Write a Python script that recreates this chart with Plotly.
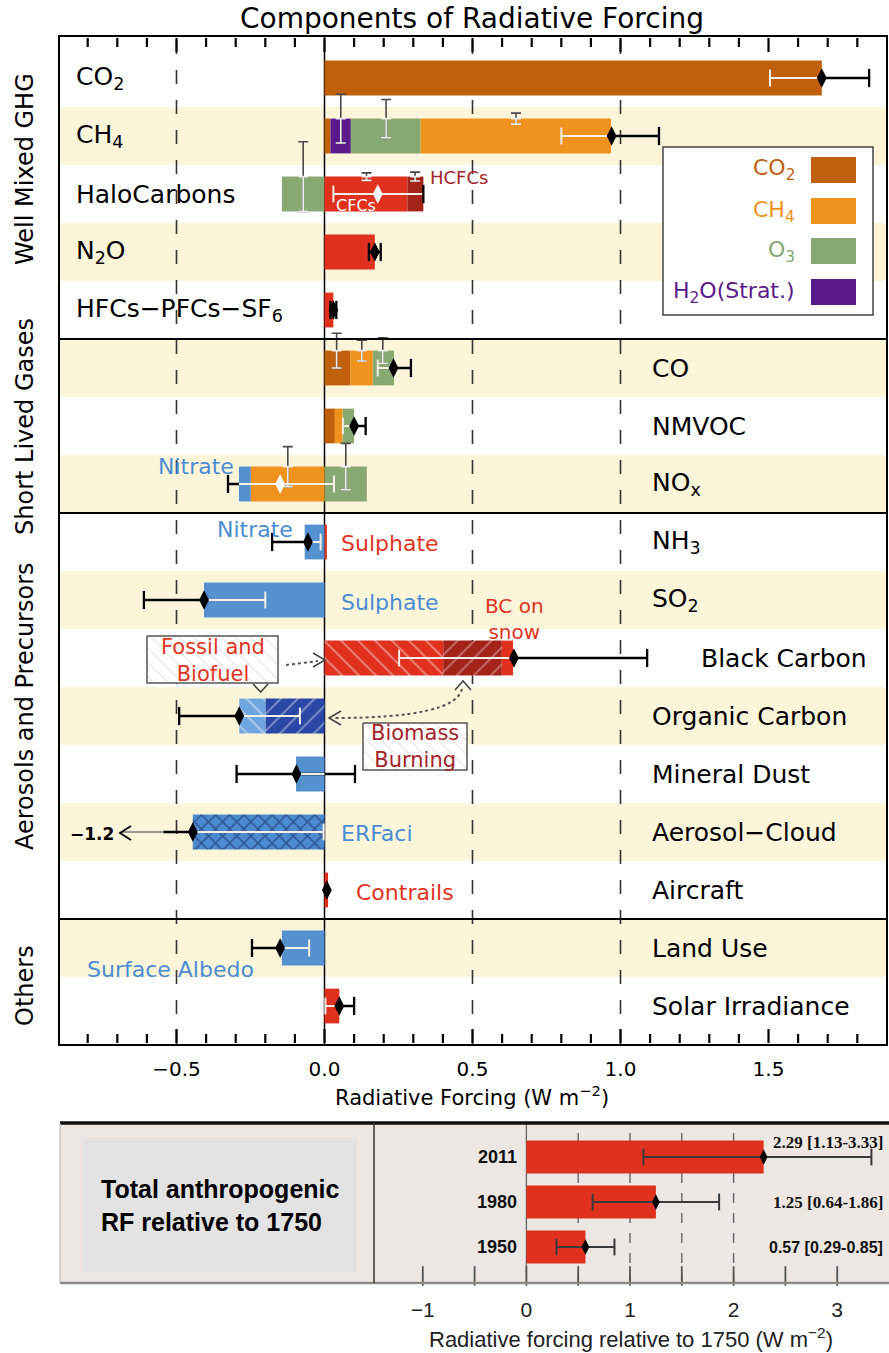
import plotly.graph_objects as go

W, H = 889, 1353
FONT = "DejaVu Sans"

# ------------------------------------------------------------------ data
rows = ["CO2", "CH4", "HaloCarbons", "N2O", "HFCs", "CO", "NMVOC", "NOx",
        "NH3", "SO2", "Black Carbon", "Organic Carbon", "Mineral Dust",
        "Aerosol-Cloud", "Aircraft", "Land Use", "Solar Irradiance"]
row_labels = ["CO<sub>2</sub>", "CH<sub>4</sub>", "HaloCarbons", "N<sub>2</sub>O",
              "HFCs−PFCs−SF<sub>6</sub>", "CO", "NMVOC", "NO<sub>x</sub>",
              "NH<sub>3</sub>", "SO<sub>2</sub>", "Black Carbon", "Organic Carbon",
              "Mineral Dust", "Aerosol−Cloud", "Aircraft", "Land Use", "Solar Irradiance"]
groups = ["Well Mixed GHG", "Short Lived Gases", "Aerosols and Precursors", "Others"]
group_ends = ["HFCs", "NOx", "Aircraft"]

brown_rows = ["CO2", "CH4", "CO", "NMVOC"]
brown_start = [0.0, 0.0, 0.0, 0.0]
brown_end = [1.68, 0.02, 0.088, 0.035]

purple_rows = ["CH4"]
purple_start = [0.02]
purple_end = [0.089]

green_rows = ["CH4", "HaloCarbons", "CO", "NMVOC", "NOx"]
green_start = [0.089, -0.144, 0.163, 0.061, 0.0]
green_end = [0.325, 0.0, 0.235, 0.100, 0.143]

orange_rows = ["CH4", "CO", "NMVOC", "NOx"]
orange_start = [0.325, 0.088, 0.035, -0.249]
orange_end = [0.968, 0.163, 0.061, 0.0]

red_rows = ["HaloCarbons", "N2O", "HFCs", "NH3", "Aircraft", "Solar Irradiance", "Black Carbon"]
red_start = [0.0, 0.0, 0.0, 0.0, 0.0, 0.0, 0.599]
red_end = [0.280, 0.170, 0.030, 0.008, 0.012, 0.050, 0.637]

darkred_rows = ["HaloCarbons"]
darkred_start = [0.280]
darkred_end = [0.334]

blue_rows = ["NOx", "NH3", "SO2", "Mineral Dust", "Land Use"]
blue_start = [-0.289, -0.067, -0.407, -0.096, -0.144]
blue_end = [-0.249, 0.0, 0.0, 0.0, 0.0]

bc_fossil = [0.0, 0.401]
bc_biomass = [0.401, 0.599]
oc_fossil = [-0.288, -0.199]
oc_biomass = [-0.199, 0.0]
aci_bar = [-0.445, 0.0]
aci_low_label = "−1.2"

# component uncertainty I-beams (centre x, half length in row units)
ib_rows = ["CH4", "CH4", "CH4", "HaloCarbons", "HaloCarbons", "HaloCarbons",
           "CO", "CO", "CO", "NOx", "NOx"]
ib_x = [0.055, 0.208, 0.647, -0.072, 0.142, 0.306, 0.041, 0.126, 0.197, -0.124, 0.072]
ib_half = [0.42, 0.33, 0.095, 0.60, 0.065, 0.077, 0.30, 0.18, 0.22, 0.345, 0.40]

# best estimates
tot_rows = ["CO2", "CH4", "N2O", "HFCs", "CO", "NMVOC", "NH3", "SO2", "Black Carbon",
            "Organic Carbon", "Mineral Dust", "Aerosol-Cloud", "Aircraft", "Land Use",
            "Solar Irradiance"]
tot_val = [1.68, 0.97, 0.17, 0.03, 0.233, 0.10, -0.056, -0.407, 0.64, -0.288, -0.095,
           -0.445, 0.008, -0.15, 0.05]
wtot_rows = ["HaloCarbons", "NOx"]
wtot_val = [0.18, -0.15]

blk_rows = ["CO2", "CH4", "N2O", "HFCs", "CO", "NMVOC", "NOx", "NH3", "SO2", "Black Carbon",
            "Organic Carbon", "Mineral Dust", "Aerosol-Cloud", "Aircraft", "Land Use",
            "Solar Irradiance"]
blk_lo = [1.68, 0.97, 0.15, 0.02, 0.233, 0.10, -0.326, -0.177, -0.61, 0.64, -0.491, -0.297,
          -0.544, 0.0, -0.245, 0.05]
blk_hi = [1.84, 1.13, 0.19, 0.04, 0.292, 0.139, -0.289, -0.056, -0.407, 1.09, -0.288, 0.103,
          -0.445, 0.016, -0.15, 0.10]
bcap_rows = ["CO2", "CH4", "N2O", "N2O", "HFCs", "HFCs", "CO", "NMVOC", "NOx", "NH3", "SO2",
             "Black Carbon", "Organic Carbon", "Mineral Dust", "Mineral Dust", "Land Use",
             "Solar Irradiance", "HaloCarbons"]
bcap_x = [1.84, 1.13, 0.15, 0.19, 0.02, 0.04, 0.292, 0.139, -0.326, -0.177, -0.61, 1.09,
          -0.491, -0.297, 0.103, -0.245, 0.10, 0.334]

wht_rows = ["CO2", "CH4", "HaloCarbons", "CO", "NMVOC", "NOx", "NH3", "SO2", "Black Carbon",
            "Organic Carbon", "Mineral Dust", "Aerosol-Cloud", "Land Use", "Solar Irradiance"]
wht_lo = [1.505, 0.80, 0.03, 0.18, 0.062, -0.289, -0.056, -0.407, 0.252, -0.288, -0.095,
          -0.445, -0.15, 0.003]
wht_hi = [1.68, 0.97, 0.33, 0.233, 0.10, 0.032, -0.013, -0.20, 0.64, -0.083, 0.0, -0.003,
          -0.052, 0.05]
wcap_rows = ["CO2", "CH4", "HaloCarbons", "CO", "NMVOC", "NOx", "NH3", "SO2", "Black Carbon",
             "Organic Carbon", "Aerosol-Cloud", "Land Use", "Solar Irradiance"]
wcap_x = [1.505, 0.80, 0.03, 0.18, 0.062, 0.032, -0.013, -0.20, 0.252, -0.083, -0.003,
          -0.052, 0.003]

legend_labels = ["CO<sub>2</sub>", "CH<sub>4</sub>", "O<sub>3</sub>", "H<sub>2</sub>O(Strat.)"]

x_tickvals = [-0.5, 0.0, 0.5, 1.0, 1.5]
x_ticktext = ["−0.5", "0.0", "0.5", "1.0", "1.5"]

years = ["2011", "1980", "1950"]
total_rf = [2.29, 1.25, 0.57]
total_lo = [1.13, 0.64, 0.29]
total_hi = [3.33, 1.86, 0.85]
x2_tickvals = [-1, 0, 1, 2, 3]
x2_ticktext = ["−1", "0", "1", "2", "3"]

# ------------------------------------------------------------------ styling
C = dict(co2="#c0600c", ch4="#f0921e", o3="#88aa72", h2o="#5a1a8a", red="#e0301e",
         dred="#a3231b", blue="#5590cf", lblue="#6fa6df", dblue="#2b47a6",
         aci="#4d8bd1", band="#fcf5da", txtblue="#4a8dd3", txtred="#e03522",
         txtdred="#a3262a", wline="#f4efe6")
BAR_W = 0.6
idx = {n: i for i, n in enumerate(rows)}


def ri(names):
    return [idx[n] for n in names]


# pixel -> coordinate helpers (layout positions only)
def xpx(px):
    return (px - 324.5) / 296.0


def ypx(py):
    return (py - 78.0) / 58.0


def pxp(px):
    return px / W


def pyp(py):
    return 1 - py / H


def bx(px):
    return (px - 526.4) / 103.6


def by(py):
    return (py - 1157.0) / 45.0


def x_to_paper(v):
    # inverse of xpx, expressed as a paper fraction
    return (324.5 + v * 296.0) / W


fig = go.Figure()


def add_bar(names, start, end, color, pattern=None):
    marker = dict(color=color, line=dict(width=0))
    if pattern:
        marker["pattern"] = pattern
    fig.add_trace(go.Bar(orientation="h", y=ri(names), x=[e - s for s, e in zip(start, end)],
                         base=start, width=BAR_W, marker=marker, hoverinfo="skip",
                         showlegend=False, xaxis="x", yaxis="y"))


add_bar(brown_rows, brown_start, brown_end, C["co2"])
add_bar(purple_rows, purple_start, purple_end, C["h2o"])
add_bar(green_rows, green_start, green_end, C["o3"])
add_bar(orange_rows, orange_start, orange_end, C["ch4"])
add_bar(red_rows, red_start, red_end, C["red"])
add_bar(darkred_rows, darkred_start, darkred_end, C["dred"])
add_bar(blue_rows, blue_start, blue_end, C["blue"])
add_bar(["Black Carbon"], [bc_fossil[0]], [bc_fossil[1]], C["red"],
        dict(shape="\\", fgcolor="rgba(255,255,255,0.85)", bgcolor=C["red"], size=12, solidity=0.16))
add_bar(["Black Carbon"], [bc_biomass[0]], [bc_biomass[1]], C["dred"],
        dict(shape="/", fgcolor="rgba(255,255,255,0.7)", bgcolor=C["dred"], size=12, solidity=0.16))
add_bar(["Organic Carbon"], [oc_fossil[0]], [oc_fossil[1]], C["lblue"],
        dict(shape="\\", fgcolor="rgba(255,255,255,0.85)", bgcolor=C["lblue"], size=12, solidity=0.16))
add_bar(["Organic Carbon"], [oc_biomass[0]], [oc_biomass[1]], C["dblue"],
        dict(shape="/", fgcolor="rgba(255,255,255,0.8)", bgcolor=C["dblue"], size=12, solidity=0.16))
add_bar(["Aerosol-Cloud"], [aci_bar[0]], [aci_bar[1]], C["aci"],
        dict(shape="x", fgcolor="#13275a", bgcolor=C["aci"], size=10, solidity=0.3))

# annotation boxes with hatch
for (x0, x1, y0, y1) in [(147, 278, 636, 683), (363, 467, 723, 770)]:
    fig.add_trace(go.Scatter(x=[xpx(x0), xpx(x1), xpx(x1), xpx(x0), xpx(x0)],
                             y=[ypx(y0), ypx(y0), ypx(y1), ypx(y1), ypx(y0)],
                             mode="lines", fill="toself", fillcolor="white",
                             fillpattern=dict(shape="\\", fgcolor="#c4c4c4", bgcolor="white",
                                              size=10, solidity=0.1),
                             line=dict(color="#555555", width=1.5), hoverinfo="skip",
                             showlegend=False, xaxis="x", yaxis="y"))

# component I-beams
ib_y = [idx[n] - BAR_W / 2 for n in ib_rows]
fig.add_trace(go.Scatter(x=ib_x, y=ib_y, mode="markers",
                         marker=dict(size=1, color="rgba(0,0,0,0)"),
                         error_y=dict(type="data", symmetric=True, array=ib_half,
                                      color="#4a4a4a", thickness=1.6, width=5),
                         hoverinfo="skip", showlegend=False, xaxis="x", yaxis="y"))
fig.add_trace(go.Scatter(x=ib_x, y=ib_y, mode="markers",
                         marker=dict(size=1, color="rgba(0,0,0,0)"),
                         error_y=dict(type="data", symmetric=False, array=ib_half,
                                      arrayminus=[0] * len(ib_half),
                                      color="#ececec", thickness=1.6, width=5),
                         hoverinfo="skip", showlegend=False, xaxis="x", yaxis="y"))


def segs(names, lo, hi):
    xs, ys = [], []
    for n, a, b in zip(names, lo, hi):
        xs += [a, b, None]
        ys += [idx[n], idx[n], None]
    return xs, ys


# off-scale arrow line for aerosol-cloud
fig.add_trace(go.Scatter(x=[blk_lo[blk_rows.index("Aerosol-Cloud")], xpx(121)],
                         y=[idx["Aerosol-Cloud"]] * 2, mode="lines",
                         line=dict(color="#7a7a7a", width=1.5), hoverinfo="skip",
                         showlegend=False, xaxis="x", yaxis="y"))

bxs, bys = segs(blk_rows, blk_lo, blk_hi)
fig.add_trace(go.Scatter(x=bxs, y=bys, mode="lines", line=dict(color="black", width=2.5),
                         hoverinfo="skip", showlegend=False, xaxis="x", yaxis="y"))
wxs, wys = segs(wht_rows, wht_lo, wht_hi)
fig.add_trace(go.Scatter(x=wxs, y=wys, mode="lines", line=dict(color=C["wline"], width=2),
                         hoverinfo="skip", showlegend=False, xaxis="x", yaxis="y"))
fig.add_trace(go.Scatter(x=bcap_x, y=ri(bcap_rows), mode="markers",
                         marker=dict(symbol="line-ns", size=13, line=dict(width=2.3, color="black")),
                         hoverinfo="skip", showlegend=False, xaxis="x", yaxis="y"))
fig.add_trace(go.Scatter(x=wcap_x, y=ri(wcap_rows), mode="markers",
                         marker=dict(symbol="line-ns", size=12, line=dict(width=2, color=C["wline"])),
                         hoverinfo="skip", showlegend=False, xaxis="x", yaxis="y"))
fig.add_trace(go.Scatter(x=tot_val, y=ri(tot_rows), mode="markers",
                         marker=dict(symbol="diamond-tall", size=14, color="black"),
                         hoverinfo="skip", showlegend=False, xaxis="x", yaxis="y"))
fig.add_trace(go.Scatter(x=wtot_val, y=ri(wtot_rows), mode="markers",
                         marker=dict(symbol="diamond-tall", size=14, color="white"),
                         hoverinfo="skip", showlegend=False, xaxis="x", yaxis="y"))

# ---------------- bottom panel
fig.add_trace(go.Bar(orientation="h", y=[0, 1, 2], x=total_rf, base=[0, 0, 0], width=0.73,
                     marker=dict(color="#e0301e", line=dict(width=0)), hoverinfo="skip",
                     showlegend=False, xaxis="x2", yaxis="y2"))
txs, tys = [], []
for i, (a, b) in enumerate(zip(total_lo, total_hi)):
    txs += [a, b, None]
    tys += [i, i, None]
fig.add_trace(go.Scatter(x=txs, y=tys, mode="lines", line=dict(color="#3a3a3a", width=2),
                         hoverinfo="skip", showlegend=False, xaxis="x2", yaxis="y2"))
fig.add_trace(go.Scatter(x=total_lo + total_hi, y=[0, 1, 2, 0, 1, 2], mode="markers",
                         marker=dict(symbol="line-ns", size=12, line=dict(width=2, color="#3a3a3a")),
                         hoverinfo="skip", showlegend=False, xaxis="x2", yaxis="y2"))
fig.add_trace(go.Scatter(x=total_rf, y=[0, 1, 2], mode="markers",
                         marker=dict(symbol="diamond-tall", size=11, color="black"),
                         hoverinfo="skip", showlegend=False, xaxis="x2", yaxis="y2"))
b_ticks = [k / 2 for k in range(-2, 7)]
fig.add_trace(go.Scatter(x=b_ticks, y=[by(1283 - 7)] * len(b_ticks), mode="markers",
                         marker=dict(symbol="line-ns", size=14, line=dict(width=1.8, color="#555555")),
                         cliponaxis=False, hoverinfo="skip", showlegend=False,
                         xaxis="x2", yaxis="y2"))

# ------------------------------------------------------------------ shapes
shapes = []
for r in range(1, len(rows), 2):
    shapes.append(dict(type="rect", xref="x domain", yref="y", x0=0, x1=1, y0=r - 0.5, y1=r + 0.5,
                       fillcolor=C["band"], line=dict(width=0), layer="below"))
for v in [-0.5, 0.5, 1.0]:
    shapes.append(dict(type="line", xref="x", yref="y domain", x0=v, x1=v, y0=0, y1=1,
                       line=dict(color="#333333", width=1.6, dash="14px,16px"), layer="below"))
shapes.append(dict(type="line", xref="x", yref="y domain", x0=0, x1=0, y0=0, y1=1,
                   line=dict(color="black", width=1.5), layer="below"))
for g in group_ends:
    shapes.append(dict(type="line", xref="x domain", yref="y", x0=0, x1=1,
                       y0=idx[g] + 0.5, y1=idx[g] + 0.5, line=dict(color="black", width=2.2)))

# inside tick marks of the main panel (top and bottom edges), fully paper referenced
for k in range(-8, 19):
    xp = x_to_paper(k / 10)
    ln = 14 if k % 5 == 0 else 9
    for p0, p1 in [(1043, 1043 - ln), (38, 38 + ln)]:
        shapes.append(dict(type="line", xref="paper", yref="paper", x0=xp, x1=xp,
                           y0=pyp(p0), y1=pyp(p1), line=dict(color="black", width=2.2)))

# legend box
shapes.append(dict(type="rect", xref="paper", yref="paper", x0=pxp(663), x1=pxp(873),
                   y0=pyp(315), y1=pyp(147), fillcolor="white",
                   line=dict(color="#444444", width=1.5)))
leg_cols = [C["co2"], C["ch4"], C["o3"], C["h2o"]]
leg_y = [170, 211, 251, 292]
for col, yy in zip(leg_cols, leg_y):
    shapes.append(dict(type="rect", xref="paper", yref="paper", x0=pxp(811), x1=pxp(856),
                       y0=pyp(yy + 13), y1=pyp(yy - 13), fillcolor=col, line=dict(width=0)))


def pth(points):
    return "M " + " L ".join(f"{xpx(a):.4f},{ypx(b):.4f}" for a, b in points)


chev = dict(color="#444444", width=1.6)
for pts in [[(313, 653), (325, 660), (313, 667)],
            [(253, 684), (260.7, 692), (268, 684)],
            [(455, 690), (463, 681), (471, 690)],
            [(341, 711), (329, 718), (341, 725)]]:
    shapes.append(dict(type="path", xref="x", yref="y", path=pth(pts), line=chev))
shapes.append(dict(type="path", xref="x", yref="y",
                   path=pth([(131, 826), (120, 833), (131, 840)]),
                   line=dict(color="black", width=1.8)))
shapes.append(dict(type="line", xref="x", yref="y", x0=xpx(286), y0=ypx(665), x1=xpx(318),
                   y1=ypx(661), line=dict(color="#555555", width=2, dash="dot")))
shapes.append(dict(type="path", xref="x", yref="y",
                   path=f"M {xpx(462):.4f},{ypx(689):.4f} Q {xpx(455):.4f},{ypx(718):.4f} "
                        f"{xpx(334):.4f},{ypx(718):.4f}",
                   line=dict(color="#555555", width=2, dash="dot")))

# bottom panel frame
shapes.append(dict(type="rect", xref="paper", yref="paper", x0=pxp(60), x1=1, y0=pyp(1283),
                   y1=pyp(1123), fillcolor="#ece7e2", line=dict(width=0), layer="below"))
shapes.append(dict(type="rect", xref="paper", yref="paper", x0=pxp(82), x1=pxp(357),
                   y0=pyp(1272), y1=pyp(1137), fillcolor="#e3e3e3", line=dict(width=0),
                   layer="below"))
for v in [0.5, 1.0, 1.5, 2.0]:
    shapes.append(dict(type="line", xref="x2", yref="y2 domain", x0=v, x1=v, y0=0, y1=1,
                       line=dict(color="#666666", width=1.4, dash="10px,10px"), layer="below"))
shapes.append(dict(type="line", xref="x2", yref="y2 domain", x0=0, x1=0, y0=0, y1=1,
                   line=dict(color="#666666", width=1.3), layer="below"))
shapes.append(dict(type="line", xref="paper", yref="paper", x0=pxp(60), x1=1, y0=pyp(1123),
                   y1=pyp(1123), line=dict(color="#111111", width=3.5)))
shapes.append(dict(type="line", xref="paper", yref="paper", x0=pxp(60), x1=1, y0=pyp(1283),
                   y1=pyp(1283), line=dict(color="#8a8a8a", width=2.5)))
shapes.append(dict(type="line", xref="paper", yref="paper", x0=pxp(60), x1=pxp(60),
                   y0=pyp(1283), y1=pyp(1123), line=dict(color="#b0b0b0", width=1)))
shapes.append(dict(type="line", xref="paper", yref="paper", x0=pxp(374), x1=pxp(374),
                   y0=pyp(1283), y1=pyp(1123), line=dict(color="#333333", width=1.5)))

# ------------------------------------------------------------------ annotations
anns = []


def ann(text, x, y, xref="x", yref="y", size=19, color="black", xanchor="left",
        family=FONT, **kw):
    d = dict(text=text, x=x, y=y, xref=xref, yref=yref, showarrow=False, xanchor=xanchor,
             yanchor="middle", font=dict(family=family, size=size, color=color))
    d.update(kw)
    anns.append(d)


ann("Components of Radiative Forcing", pxp(472), pyp(18), "paper", "paper", size=28,
    xanchor="center")
ann("Radiative Forcing (W m<sup>−2</sup>)", pxp(472), pyp(1096), "paper", "paper", size=21,
    xanchor="center")
for i, lab in enumerate(row_labels):
    if i < 5:
        ann(lab, xpx(74), i, size=25)
    elif rows[i] == "Black Carbon":
        ann(lab, xpx(699), i, size=25)
    else:
        ann(lab, xpx(650), i, size=25)
for g, yy in zip(groups, [169, 427, 706, 986]):
    ann(g, pxp(25), pyp(yy), "paper", "paper", size=24, xanchor="center", textangle=-90)

for lab, col, yy in zip(legend_labels, leg_cols, leg_y):
    ann(lab, pxp(797), pyp(yy), "paper", "paper", size=22, color=col, xanchor="right")

ann("HCFCs", xpx(428), ypx(177), size=18, color=C["txtdred"])
ann("CFCs", xpx(334), ypx(205), size=16, color="white")
ann("Nitrate", xpx(236), ypx(466), size=22, color=C["txtblue"], xanchor="right")
ann("Nitrate", xpx(295), ypx(529), size=22, color=C["txtblue"], xanchor="right")
ann("Sulphate", xpx(339), ypx(543), size=22, color=C["txtred"])
ann("Sulphate", xpx(339), ypx(602), size=22, color=C["txtblue"])
ann("BC on<br>snow", xpx(514), ypx(619), size=20, color=C["txtred"], xanchor="center")
ann("Fossil and<br>Biofuel", xpx(212.5), ypx(660), size=21, color=C["txtred"], xanchor="center")
ann("Biomass<br>Burning", xpx(415), ypx(746), size=21, color=C["txtdred"], xanchor="center")
ann("ERFaci", xpx(339), ypx(833), size=22, color=C["txtblue"])
ann("Contrails", xpx(354), ypx(892), size=22, color=C["txtred"])
ann("Surface Albedo", xpx(85), ypx(969), size=22, color=C["txtblue"])
ann(aci_low_label, xpx(116), ypx(834), xanchor="right",
    font=dict(family=FONT, size=17, color="black", weight="bold"))

# bottom panel texts
ann("Total anthropogenic<br>RF relative to 1750", pxp(99), pyp(1205), "paper", "paper",
    align="left", font=dict(family="Liberation Sans", size=25, color="black", weight="bold"))
for i, yr in enumerate(years):
    ann(yr, bx(519), i, "x2", "y2", xanchor="right",
        font=dict(family="Liberation Sans", size=18, color="#111", weight="bold"))
val_y = [by(1142), 1, 2]
val_fonts = ["Liberation Serif", "Liberation Serif", "Liberation Sans"]
val_sizes = [17, 17, 16]
for i in range(3):
    ann(f"{total_rf[i]:.2f} [{total_lo[i]:.2f}-{total_hi[i]:.2f}]", bx(885), val_y[i], "x2", "y2",
        xanchor="right",
        font=dict(family=val_fonts[i], size=val_sizes[i], color="#111", weight="bold"))
ann("Radiative forcing relative to 1750 (W m<sup>−2</sup>)", pxp(631), pyp(1338), "paper",
    "paper", xanchor="center", font=dict(family="Liberation Sans", size=22, color="#222"))

# ------------------------------------------------------------------ layout
fig.update_layout(
    width=W, height=H, margin=dict(l=0, r=0, t=0, b=0),
    paper_bgcolor="white", plot_bgcolor="rgba(0,0,0,0)",
    barmode="overlay", showlegend=False, shapes=shapes, annotations=anns,
    xaxis=dict(domain=[pxp(60), pxp(886)], range=[xpx(60), xpx(886)], anchor="y",
               tickvals=x_tickvals, ticktext=x_ticktext, ticks="",
               showline=True, linecolor="black", linewidth=2, mirror=True,
               showgrid=False, zeroline=False, ticklabelstandoff=6,
               tickfont=dict(family=FONT, size=20, color="black")),
    yaxis=dict(domain=[pyp(1044), pyp(37)], range=[ypx(1044), ypx(37)], anchor="x",
               showline=True, linecolor="black", linewidth=2, mirror=True,
               showticklabels=False, ticks="", showgrid=False, zeroline=False),
    xaxis2=dict(domain=[pxp(374), 1.0], range=[bx(374), bx(889)], anchor="y2",
                tickvals=x2_tickvals, ticktext=x2_ticktext, ticks="",
                showline=False, showgrid=False, zeroline=False, ticklabelstandoff=12,
                tickfont=dict(family="Liberation Sans", size=21, color="#222")),
    yaxis2=dict(domain=[pyp(1283), pyp(1123)], range=[by(1283), by(1123)], anchor="x2",
                showticklabels=False, ticks="", showgrid=False, zeroline=False),
)

fig.write_html("out.html")
